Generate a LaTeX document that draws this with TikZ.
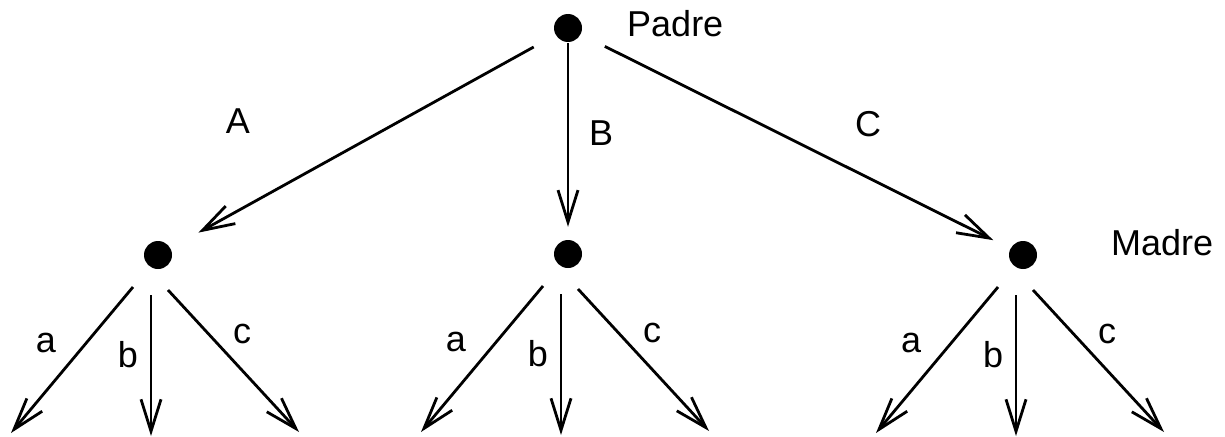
\documentclass[tikz,border=0pt]{standalone}
\usepackage{fontspec}
\setmainfont{Liberation Sans}
\usetikzlibrary{arrows.meta}
\begin{document}
\begin{tikzpicture}[x=1pt,y=-1pt,
  dot/.style={circle,fill=black,minimum size=28pt,inner sep=0pt},
  arr/.style={line width=2.8pt,-{Straight Barb[length=32pt,width=20pt,line width=2.8pt]}},
  lbl/.style={inner sep=0pt,anchor=base,font=\fontsize{36}{42}\selectfont},
  side/.style={lbl,anchor=base west}]
\useasboundingbox (0,0) rectangle (1225,436);

% parent and the three children
\node[dot] (P) at (568,28) {};
\node[dot] (L) at (158,255) {};
\node[dot] (M) at (568,254) {};
\node[dot] (R) at (1023,255) {};

\node[side] (padre) at (627,37) {Padre};
\node[side] (madre) at (1111,255) {Madre};

% first level
\draw[arr,shorten <=25pt,shorten >=32pt] (P) -- (L);
\draw[arr,shorten <=1pt,shorten >=13pt] (P) -- (M);
\draw[arr,shorten <=27pt,shorten >=19pt] (P) -- (R);
\node[lbl] (lA) at (238,133) {A};
\node[lbl] (lB) at (601,145) {B};
\node[lbl] (lC) at (868,136) {C};

% second level under each child
\foreach \d in {L,M,R} {
  \coordinate (\d a) at ([shift={(-147,178)}]\d.center);
  \coordinate (\d b) at ([shift={(-7,181)}]\d.center);
  \coordinate (\d c) at ([shift={(141,177)}]\d.center);
  \draw[arr] ([shift={(-25,32)}]\d.center) -- (\d a);
  \draw[arr] ([shift={(-7,40)}]\d.center) -- (\d b);
  \draw[arr] ([shift={(10,35)}]\d.center) -- (\d c);
  \node[lbl] (\d la) at ([shift={(-112,97)}]\d.center) {a};
  \node[lbl] (\d lb) at ([shift={(-30,112)}]\d.center) {b};
  \node[lbl] (\d lc) at ([shift={(84,88)}]\d.center) {c};
}
\end{tikzpicture}
\end{document}
